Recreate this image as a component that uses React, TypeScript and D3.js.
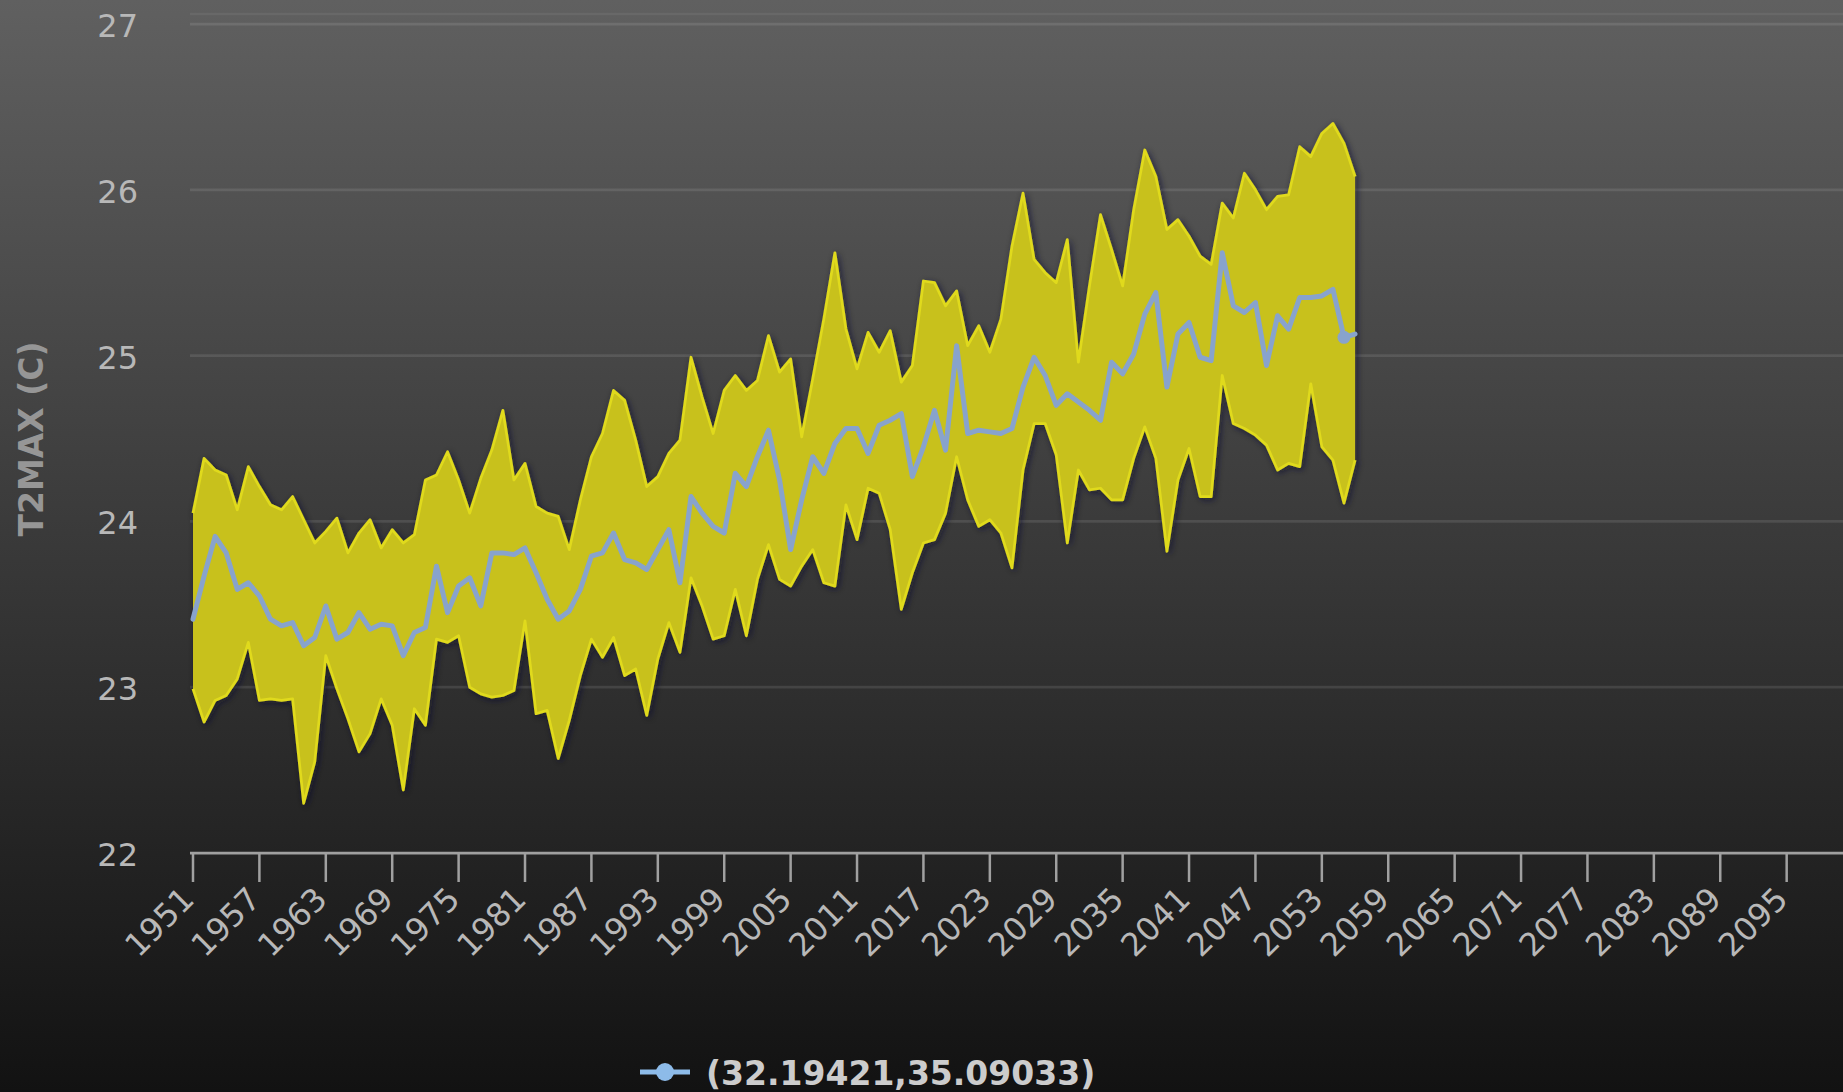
import React from "react";
import * as d3 from "d3";

// Categories: one point per year
const years: number[] = d3.range(1951, 2057);

// Ensemble minimum of yearly T2MAX (°C)
const lowValues: number[] = [
  22.99, 22.79, 22.92, 22.95, 23.05, 23.27, 22.92, 22.93, 22.92, 22.93,
  22.3, 22.55, 23.19, 22.99, 22.81, 22.61, 22.72, 22.93, 22.77, 22.38,
  22.87, 22.77, 23.29, 23.27, 23.31, 23.0, 22.96, 22.94, 22.95, 22.98,
  23.4, 22.84, 22.86, 22.57, 22.8, 23.07, 23.29, 23.18, 23.3, 23.07,
  23.11, 22.83, 23.17, 23.39, 23.21, 23.66, 23.49, 23.29, 23.31, 23.59,
  23.31, 23.65, 23.86, 23.65, 23.61, 23.73, 23.83, 23.63, 23.61, 24.1,
  23.89, 24.2, 24.17, 23.95, 23.47, 23.69, 23.87, 23.89, 24.05, 24.39,
  24.13, 23.97, 24.01, 23.93, 23.72, 24.31, 24.59, 24.59, 24.4, 23.87,
  24.31, 24.19, 24.2, 24.13, 24.13, 24.38, 24.57, 24.38, 23.82, 24.25,
  24.44, 24.15, 24.15, 24.88, 24.59, 24.56, 24.52, 24.46, 24.31, 24.35,
  24.33, 24.83, 24.45, 24.37, 24.11, 24.37,
];

// Ensemble maximum of yearly T2MAX (°C)
const highValues: number[] = [
  24.05, 24.38, 24.31, 24.28, 24.07, 24.33, 24.21, 24.1, 24.07, 24.15,
  24.01, 23.87, 23.94, 24.02, 23.81, 23.93, 24.01, 23.84, 23.95, 23.87,
  23.92, 24.25, 24.28, 24.42, 24.25, 24.05, 24.26, 24.43, 24.67, 24.25,
  24.35, 24.09, 24.05, 24.03, 23.83, 24.13, 24.39, 24.53, 24.79, 24.73,
  24.49, 24.21, 24.27, 24.41, 24.49, 24.99, 24.75, 24.53, 24.79, 24.88,
  24.79, 24.85, 25.12, 24.9, 24.98, 24.51, 24.86, 25.22, 25.62, 25.16,
  24.92, 25.14, 25.02, 25.15, 24.84, 24.94, 25.45, 25.44, 25.3, 25.39,
  25.06, 25.18, 25.02, 25.22, 25.66, 25.98, 25.58, 25.5, 25.44, 25.7,
  24.96, 25.42, 25.85, 25.64, 25.42, 25.88, 26.24, 26.08, 25.76, 25.82,
  25.72, 25.6, 25.55, 25.92, 25.83, 26.1, 26.0, 25.88, 25.96, 25.97,
  26.26, 26.2, 26.34, 26.4, 26.28, 26.08,
];

// Ensemble mean of yearly T2MAX (°C) at (32.19421, 35.09033)
const meanValues: number[] = [
  23.41, 23.67, 23.91, 23.81, 23.59, 23.63, 23.55, 23.41, 23.37, 23.39,
  23.25, 23.3, 23.49, 23.29, 23.33, 23.45, 23.35, 23.38, 23.37, 23.19,
  23.33, 23.36, 23.73, 23.45, 23.61, 23.66, 23.49, 23.81, 23.81, 23.8,
  23.84, 23.69, 23.53, 23.41, 23.46, 23.59, 23.79, 23.81, 23.93, 23.77,
  23.75, 23.71, 23.83, 23.95, 23.63, 24.15, 24.05, 23.97, 23.93, 24.29,
  24.21, 24.39, 24.55, 24.25, 23.83, 24.13, 24.39, 24.29, 24.47, 24.56,
  24.56, 24.41, 24.58, 24.61, 24.65, 24.27, 24.45, 24.67, 24.43, 25.06,
  24.53, 24.55, 24.54, 24.53, 24.56, 24.81, 24.99, 24.88, 24.7, 24.77,
  24.72, 24.67, 24.61, 24.96, 24.89, 25.01, 25.25, 25.38, 24.81, 25.13,
  25.2, 24.99, 24.97, 25.62, 25.3, 25.26, 25.32, 24.94, 25.24, 25.16,
  25.35, 25.35, 25.36, 25.4, 25.11, 25.13,
];

const xTickYears: number[] = [
  1951, 1957, 1963, 1969, 1975, 1981, 1987, 1993, 1999, 2005, 2011, 2017,
  2023, 2029, 2035, 2041, 2047, 2053, 2059, 2065, 2071, 2077, 2083, 2089,
  2095,
];
const yTickValues: number[] = [22, 23, 24, 25, 26, 27];
const markedYear = 2055;
const seriesName = "(32.19421,35.09033)";
const yAxisTitle = "T2MAX (C)";

const W = 1843;
const H = 1092;
const FONT = "'DejaVu Sans', Verdana, sans-serif";

export default function App() {
  const x = d3.scaleLinear().domain([1951, 2100]).range([193, 1842]);
  const y = d3.scaleLinear().domain([22, 27]).range([853, 24]);

  const rows = years.map((yr, i) => ({
    yr,
    lo: lowValues[i],
    hi: highValues[i],
    mean: meanValues[i],
  }));
  type Row = (typeof rows)[number];

  const band = d3
    .area<Row>()
    .x((d) => x(d.yr))
    .y0((d) => y(d.lo))
    .y1((d) => y(d.hi));
  const hiLine = d3.line<Row>().x((d) => x(d.yr)).y((d) => y(d.hi));
  const loLine = d3.line<Row>().x((d) => x(d.yr)).y((d) => y(d.lo));
  const meanLine = d3.line<Row>().x((d) => x(d.yr)).y((d) => y(d.mean));

  const marked = rows.find((r) => r.yr === markedYear)!;
  const plotLeft = x(1951) - 3;
  const axisY = y(22);

  return (
    <svg
      width={W}
      height={H}
      viewBox={`0 0 ${W} ${H}`}
      style={{ position: "fixed", left: 0, top: 0, display: "block" }}
    >
      <defs>
        <linearGradient id="bg" x1="0" y1="0" x2="0" y2="1">
          <stop offset="0" stopColor="rgb(96,96,96)" />
          <stop offset="1" stopColor="rgb(18,18,18)" />
        </linearGradient>
        <filter id="bandShadow" x="-5%" y="-10%" width="110%" height="120%">
          <feDropShadow dx="2" dy="2" stdDeviation="3.5" floodColor="#15122a" floodOpacity="0.65" />
        </filter>
      </defs>

      <rect x={0} y={0} width={W} height={H} fill="url(#bg)" />

      {/* horizontal grid */}
      <line x1={plotLeft} x2={W} y1={14} y2={14} stroke="rgba(255,255,255,0.06)" strokeWidth={2.5} />
      {yTickValues
        .filter((v) => v !== 22)
        .map((v) => (
          <line
            key={`g${v}`}
            x1={plotLeft}
            x2={W}
            y1={y(v)}
            y2={y(v)}
            stroke="rgba(255,255,255,0.1)"
            strokeWidth={2.75}
          />
        ))}

      {/* y tick labels */}
      {yTickValues.map((v) => (
        <text
          key={`yl${v}`}
          x={138}
          y={y(v) + 2}
          textAnchor="end"
          dominantBaseline="central"
          fontFamily={FONT}
          fontSize={32}
          fill="#b8b8b8"
        >
          {v}
        </text>
      ))}

      {/* y axis title */}
      <text
        transform={`translate(31,439) rotate(-90)`}
        textAnchor="middle"
        dominantBaseline="central"
        fontFamily={FONT}
        fontWeight="bold"
        fontSize={33}
        fill="#969696"
      >
        {yAxisTitle}
      </text>

      {/* range band */}
      <g filter="url(#bandShadow)">
        <path d={band(rows) ?? ""} fill="#c8c11e" />
        <path d={hiLine(rows) ?? ""} fill="none" stroke="#e0da1c" strokeWidth={2.75} strokeLinejoin="round" />
        <path d={loLine(rows) ?? ""} fill="none" stroke="#e0da1c" strokeWidth={2.75} strokeLinejoin="round" />
      </g>

      {/* mean series */}
      <path
        d={meanLine(rows) ?? ""}
        fill="none"
        stroke="#88a3cc"
        strokeWidth={5}
        strokeLinejoin="round"
        strokeLinecap="round"
      />
      <circle cx={x(marked.yr)} cy={y(marked.mean)} r={6.5} fill="#88a3cc" />

      {/* x axis */}
      <line x1={plotLeft} x2={W} y1={axisY} y2={axisY} stroke="#a0a0a0" strokeWidth={2.75} />
      {xTickYears.map((yr) => (
        <g key={`xt${yr}`}>
          <line x1={x(yr)} x2={x(yr)} y1={axisY} y2={axisY + 29} stroke="#a0a0a0" strokeWidth={2.5} />
          <text
            transform={`translate(${x(yr) + 3},${axisY + 48}) rotate(-45)`}
            textAnchor="end"
            fontFamily={FONT}
            fontSize={32}
            fill="#b8b8b8"
          >
            {yr}
          </text>
        </g>
      ))}

      {/* legend */}
      <line x1={640} x2={690} y1={1072} y2={1072} stroke="#8dbbe9" strokeWidth={5} />
      <circle cx={665} cy={1072} r={9} fill="#8dbbe9" />
      <text
        x={706}
        y={1073}
        dominantBaseline="central"
        fontFamily={FONT}
        fontWeight="bold"
        fontSize={33}
        fill="#cccccc"
      >
        {seriesName}
      </text>
    </svg>
  );
}
